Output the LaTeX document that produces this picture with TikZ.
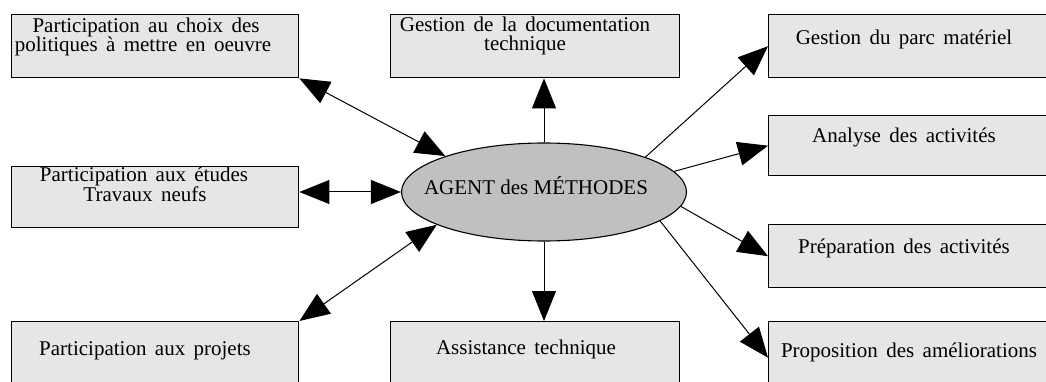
\documentclass[tikz,border=0pt]{standalone}
\usepackage{fontspec}
\setmainfont{Liberation Serif}
\newfontfamily\boxfont{Liberation Serif}[WordSpace=1.6]
\usetikzlibrary{arrows.meta,shapes.geometric}

\definecolor{boxgray}{HTML}{E6E6E6}
\definecolor{agentgray}{HTML}{C0C0C0}

\tikzset{
  box/.style={draw=black, line width=1.4pt, fill=boxgray, rectangle,
    inner sep=0pt, anchor=north west},
  agent/.style={draw=black, line width=1.1pt, fill=agentgray, ellipse,
    inner sep=0pt, minimum width=285, minimum height=98},
  txt/.style={inner sep=0pt, anchor=base, font=\boxfont\fontsize{21}{21}\selectfont},
  agtxt/.style={inner sep=0pt, anchor=base, font=\fontsize{21}{21}\selectfont},
  tip/.tip={Triangle[length=30pt,width=24pt]},
  link/.style={line width=1pt, -tip},
  both/.style={line width=1pt, tip-tip},
}

\begin{document}
\begin{tikzpicture}[x=1pt,y=-1pt]
  \clip (0,0) rectangle (1046,382);

  % boxes around the central agent
  \node[box, minimum width=287, minimum height=63] (b1) at (11,14) {};
  \node[box, minimum width=289, minimum height=63] (b2) at (390,14) {};
  \node[box, minimum width=290, minimum height=63] (b3) at (768,14) {};
  \node[box, minimum width=290, minimum height=60] (b4) at (768,115) {};
  \node[box, minimum width=290, minimum height=63] (b5) at (768,224) {};
  \node[box, minimum width=290, minimum height=72] (b6) at (768,321) {};
  \node[box, minimum width=289, minimum height=72] (b7) at (390,321) {};
  \node[box, minimum width=287, minimum height=72] (b8) at (11,321) {};
  \node[box, minimum width=287, minimum height=61] (b9) at (11,166) {};

  % central ellipse
  \node[agent] (ag) at (544,192) {};
  \node[agtxt] (agt) at (536,194) {AGENT des MÉTHODES};

  % box captions
  \node[txt] (t1a) at (146,33) {Participation au choix des};
  \node[txt] (t1b) at (143,52) {politiques à mettre en oeuvre};
  \node[txt] (t2a) at (525,32) {Gestion de la documentation};
  \node[txt] (t2b) at (525,51) {technique};
  \node[txt] (t3)  at (904,45) {Gestion du parc matériel};
  \node[txt] (t4)  at (904,143) {Analyse des activités};
  \node[txt] (t5)  at (904,253) {Préparation des activités};
  \node[txt] (t6)  at (909,357) {Proposition des améliorations};
  \node[txt] (t7)  at (526,354) {Assistance technique};
  \node[txt] (t8)  at (145,355) {Participation aux projets};
  \node[txt] (t9a) at (144,182) {Participation aux études};
  \node[txt] (t9b) at (145,201) {Travaux neufs};

  % connectors
  \draw[both] (b1.south east) -- (ag.160);
  \draw[link] (ag.north) -- (ag.north |- b2.south);
  \draw[link] (ag.19) -- (b3.west);
  \draw[link] (ag.9) -- (b4.west);
  \draw[link] (ag.-6) -- (b5.west);
  \draw[link] (ag.-14) -- (b6.west);
  \draw[link] (ag.south) -- (ag.south |- b7.north);
  \draw[both] (b8.north east) -- (ag.197);
  \draw[both] (b9.east |- ag.west) -- (ag.west);
\end{tikzpicture}
\end{document}
